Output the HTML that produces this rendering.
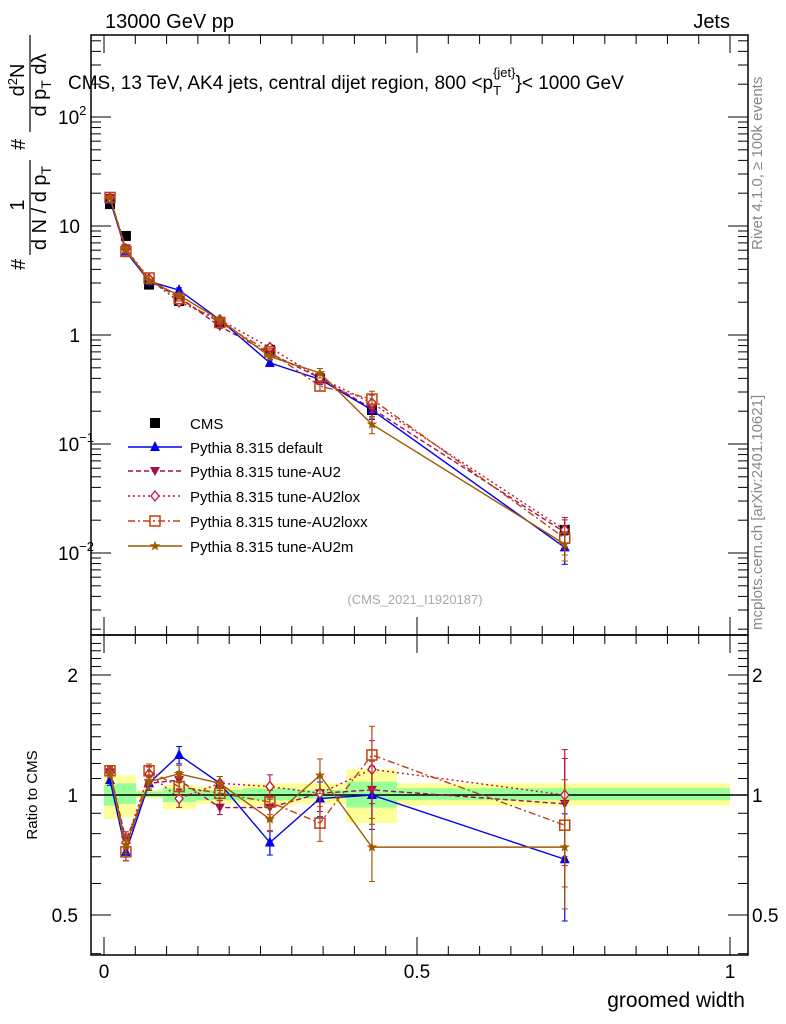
<!DOCTYPE html>
<html><head><meta charset="utf-8"><style>
body{margin:0;background:#fff;}
svg{display:block;font-family:"Liberation Sans",sans-serif;}
</style></head><body>
<svg id="c" width="786" height="1024" viewBox="0 0 786 1024">
<text x="105" y="28" font-size="20">13000 GeV pp</text>
<text x="730" y="28" font-size="20" text-anchor="end">Jets</text>
<text x="68" y="89" font-size="19">CMS, 13 TeV, AK4 jets, central dijet region, 800 &lt;p<tspan font-size="13" dy="6">T</tspan><tspan font-size="13" dy="-18" dx="-8">{jet}</tspan><tspan dy="12">}&lt; 1000 GeV</tspan></text>
<g font-size="20">
<g transform="translate(25,270) rotate(-90)"><text x="0" y="0">#</text></g>
<g transform="translate(24,205) rotate(-90)"><text x="0" y="0" text-anchor="middle">1</text></g>
<line x1="30" x2="30" y1="160" y2="255" stroke="#000" stroke-width="1.2"/>
<g transform="translate(46,208) rotate(-90)"><text x="0" y="0" text-anchor="middle">d N / d p<tspan font-size="14" dy="5">T</tspan></text></g>
<g transform="translate(25,150) rotate(-90)"><text x="0" y="0">#</text></g>
<g transform="translate(24,80) rotate(-90)"><text x="0" y="0" text-anchor="middle">d<tspan font-size="13" dy="-7">2</tspan><tspan dy="7">N</tspan></text></g>
<line x1="30" x2="30" y1="35" y2="132" stroke="#000" stroke-width="1.2"/>
<g transform="translate(46,85) rotate(-90)"><text x="0" y="0" text-anchor="middle">d p<tspan font-size="14" dy="5">T</tspan><tspan dy="-5"> dλ</tspan></text></g>
</g>
<text transform="translate(762,250) rotate(-90)" font-size="15" fill="#888">Rivet 4.1.0, ≥ 100k events</text>
<text transform="translate(762,630) rotate(-90)" font-size="15" fill="#888">mcplots.cern.ch [arXiv:2401.10621]</text>
<text x="415" y="604" font-size="13" fill="#aaa" text-anchor="middle">(CMS_2021_I1920187)</text>
<text transform="translate(37,795) rotate(-90)" font-size="15" text-anchor="middle">Ratio to CMS</text>
<text x="745" y="1007" font-size="21" text-anchor="end">groomed width</text>
<g id="bands"></g><g id="series"></g><g id="axes"></g><g id="legend"></g>
</svg>
<script>
const xCenters=[0.0096,0.035,0.072,0.12,0.185,0.265,0.345,0.428,0.736];
const binEdges=[0,0.02,0.051,0.094,0.147,0.222,0.307,0.387,0.468,1.0];
const cmsValues=[15.9,8.1,2.9,2.05,1.29,0.73,0.40,0.205,0.0163];
const yellowLo=[0.87,0.88,0.98,0.92,0.95,0.94,0.95,0.85,0.94];
const yellowHi=[1.13,1.12,1.03,1.06,1.05,1.07,1.07,1.16,1.07];
const greenLo=[0.94,0.95,0.99,0.96,0.97,0.97,0.98,0.93,0.97];
const greenHi=[1.06,1.07,1.02,1.04,1.03,1.04,1.03,1.08,1.04];
const ratioDefault=[1.09,0.72,1.07,1.26,1.07,0.76,0.98,1.0,0.69];
const ratioAU2=[1.14,0.77,1.07,1.09,0.93,0.93,1.01,1.03,0.95];
const ratioAU2lox=[1.14,0.76,1.13,0.98,1.07,1.05,1.01,1.16,1.0];
const ratioAU2loxx=[1.15,0.72,1.15,1.05,1.01,0.96,0.85,1.26,0.84];
const ratioAU2m=[1.14,0.75,1.08,1.13,1.07,0.87,1.12,0.74,0.74];
const errFrac=[0.03,0.05,0.04,0.05,0.04,0.07,0.10,0.18,0.30];
const NS="http://www.w3.org/2000/svg";
const X0=104,X1=730,L=91,R=748;
const xs=v=>X0+(X1-X0)*v;
const ym=v=>335-109*Math.log10(v);
const yr=v=>795-398.7*Math.log10(v);
function mk(t,a,p){const e=document.createElementNS(NS,t);for(const k in a)e.setAttribute(k,a[k]);p.appendChild(e);return e;}
const B=document.getElementById('bands'),S=document.getElementById('series'),A=document.getElementById('axes'),G=document.getElementById('legend');
for(let i=0;i<xCenters.length;i++){
 const x1=xs(binEdges[i]),x2=xs(binEdges[i+1]);
 const y=mk('rect',{x:x1,y:yr(yellowHi[i]),width:x2-x1,height:yr(yellowLo[i])-yr(yellowHi[i]),fill:'#ffff99'},B);
 
 
 const g=mk('rect',{x:x1,y:yr(greenHi[i]),width:x2-x1,height:yr(greenLo[i])-yr(greenHi[i]),fill:'#99ff99'},B);
 
 
}
mk('line',{x1:L,x2:R,y1:795,y2:795,stroke:'#000','stroke-width':1.5},B);
function marker(type,x,y,col,p){
 if(type==='up')return mk('polygon',{points:`${x},${y-6} ${x-5},${y+4} ${x+5},${y+4}`,fill:col},p);
 if(type==='down')return mk('polygon',{points:`${x},${y+5} ${x-5},${y-4} ${x+5},${y-4}`,fill:col},p);
 if(type==='diamond')return mk('polygon',{points:`${x},${y-5} ${x+4},${y} ${x},${y+5} ${x-4},${y}`,fill:'#fff',stroke:col,'stroke-width':1.3},p);
 if(type==='square')return mk('rect',{x:x-5,y:y-5,width:10,height:10,fill:'none',stroke:col,'stroke-width':1.5},p);
 if(type==='star'){let pts=[];for(let k=0;k<10;k++){const r=k%2?2.2:5.5,a=-Math.PI/2+k*Math.PI/5;pts.push((x+r*Math.cos(a))+','+(y+r*Math.sin(a)));}return mk('polygon',{points:pts.join(' '),fill:col},p);}
 return mk('rect',{x:x-5,y:y-5,width:10,height:10,fill:col},p);
}
const seriesList=[
 {name:'Pythia 8.315 default',r:ratioDefault,col:'#0000ee',dash:'',m:'up',key:'default'},
 {name:'Pythia 8.315 tune-AU2',r:ratioAU2,col:'#a0104a',dash:'5,3',m:'down',key:'au2'},
 {name:'Pythia 8.315 tune-AU2lox',r:ratioAU2lox,col:'#c01040',dash:'2,3',m:'diamond',key:'au2lox'},
 {name:'Pythia 8.315 tune-AU2loxx',r:ratioAU2loxx,col:'#c04010',dash:'7,3,2,3',m:'square',key:'au2loxx'},
 {name:'Pythia 8.315 tune-AU2m',r:ratioAU2m,col:'#a05a00',dash:'',m:'star',key:'au2m'}];
cmsValues.forEach((v,i)=>{const m=marker('sq',xs(xCenters[i]),ym(v),'#000',S);
 
 });
seriesList.forEach(s=>{
 const g=mk('g',{},S);
 
 
 const mainPts=[],ratPts=[];
 s.r.forEach((r,i)=>{mainPts.push(xs(xCenters[i])+','+ym(cmsValues[i]*r));ratPts.push(xs(xCenters[i])+','+yr(r));});
 mk('polyline',{points:mainPts.join(' '),fill:'none',stroke:s.col,'stroke-width':1.4,'stroke-dasharray':s.dash},g);
 mk('polyline',{points:ratPts.join(' '),fill:'none',stroke:s.col,'stroke-width':1.4,'stroke-dasharray':s.dash},g);
 s.r.forEach((r,i)=>{const x=xs(xCenters[i]),e=errFrac[i];
  [[ym(cmsValues[i]*r*(1+e)),ym(cmsValues[i]*r*(1-e))],[yr(r*(1+e)),yr(r*(1-e))]].forEach(([a,b])=>{
   mk('line',{x1:x,x2:x,y1:a,y2:b,stroke:s.col,'stroke-width':1.2},g);
   mk('line',{x1:x-3,x2:x+3,y1:a,y2:a,stroke:s.col},g);mk('line',{x1:x-3,x2:x+3,y1:b,y2:b,stroke:s.col},g);});
  marker(s.m,x,ym(cmsValues[i]*r),s.col,g);marker(s.m,x,yr(r),s.col,g);});
});
const legY=[423,447,471,496,521,546];
const cl=mk('g',{},G);
marker('sq',155,legY[0],'#000',cl);
mk('text',{x:190,y:legY[0]+6,'font-size':15},cl).textContent='CMS';
seriesList.forEach((s,k)=>{const y=legY[k+1];const g=mk('g',{},G);
 
 
 mk('line',{x1:128,x2:182,y1:y,y2:y,stroke:s.col,'stroke-width':1.4,'stroke-dasharray':s.dash},g);
 marker(s.m,155,y,s.col,g);
 mk('text',{x:190,y:y+6,'font-size':15},g).textContent=s.name;});
mk('rect',{x:L,y:35,width:R-L,height:600,fill:'none',stroke:'#000','stroke-width':1.5},A);
mk('rect',{x:L,y:635,width:R-L,height:320,fill:'none',stroke:'#000','stroke-width':1.5},A);
const mainTickVals=[100,10,1,0.1,0.01];
const mainTickLabels=[['10','2'],['10',''],['1',''],['10','−1'],['10','−2']];
for(let d=-3;d<3;d++)for(let k=1;k<10;k++){const v=k*Math.pow(10,d),y=ym(v);if(y<35||y>635)continue;const len=k===1?20:10;
 mk('line',{x1:L,x2:L+len,y1:y,y2:y,stroke:'#000'},A);mk('line',{x1:R,x2:R-len,y1:y,y2:y,stroke:'#000'},A);}
mainTickVals.forEach((v,i)=>{const t=mk('text',{x:80,y:ym(v)+7,'font-size':19,'text-anchor':'end'},A);
 
 if(mainTickLabels[i][1]){t.setAttribute('x',58);t.setAttribute('text-anchor','start');t.innerHTML=mainTickLabels[i][0]+'<tspan font-size="13" dy="-9">'+mainTickLabels[i][1]+'</tspan>';}
 else t.textContent=mainTickLabels[i][0];});
const ratioTickVals=[0.5,1,2];const ratioTickLabels=['0.5','1','2'];
for(let v=0.4;v<=2.5;v+=0.1){const y=yr(v);if(y<635||y>955)continue;const major=Math.abs(v-0.5)<1e-6||Math.abs(v-1)<1e-6||Math.abs(v-2)<1e-6;const len=major?20:10;
 mk('line',{x1:L,x2:L+len,y1:y,y2:y,stroke:'#000'},A);mk('line',{x1:R,x2:R-len,y1:y,y2:y,stroke:'#000'},A);}
ratioTickVals.forEach((v,i)=>{[[78,'end'],[752,'start']].forEach(([x,an])=>{const t=mk('text',{x:x,y:yr(v)+7,'font-size':19,'text-anchor':an},A);
 t.textContent=ratioTickLabels[i];});});
for(let k=0;k<=20;k++){const v=k*0.05,x=xs(v);const len=k%10===0?18:9;
 [[35,1],[635,-1],[635,1],[955,-1]].forEach(([y0,dir])=>mk('line',{x1:x,x2:x,y1:y0,y2:y0+dir*len,stroke:'#000'},A));}
const xTickVals=[0,0.5,1];const xTickLabels=['0','0.5','1'];
xTickVals.forEach((v,i)=>{const t=mk('text',{x:xs(v),y:978,'font-size':19,'text-anchor':'middle'},A);
 t.textContent=xTickLabels[i];});
</script>
</body></html>
